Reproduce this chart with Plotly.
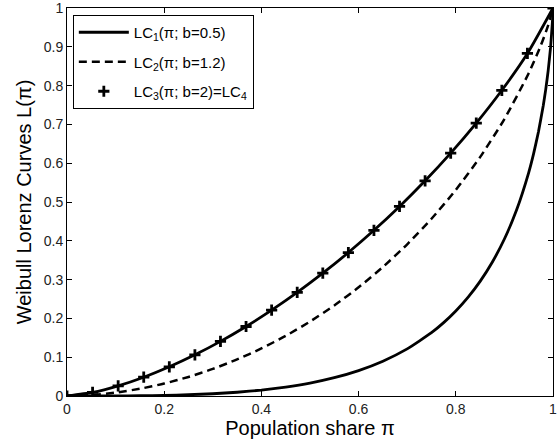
import plotly.graph_objects as go

# LC1: Weibull Lorenz curve, b = 0.5
p1 = [0, 0.05, 0.1, 0.15, 0.2, 0.25, 0.3, 0.35, 0.4, 0.45, 0.5, 0.55, 0.6, 0.65,
      0.7, 0.75, 0.775, 0.8, 0.825, 0.85, 0.875, 0.9, 0.925, 0.95, 0.96, 0.97,
      0.98, 0.985, 0.99, 0.995, 0.999, 1.0]
L1 = [0, 0.00002, 0.00018, 0.00063, 0.00157, 0.00321, 0.00581, 0.00968, 0.01522,
      0.0229, 0.03331, 0.04721, 0.06557, 0.08969, 0.12138, 0.1632, 0.18906,
      0.21908, 0.25416, 0.2955, 0.34482, 0.40465, 0.47912, 0.57585, 0.62402,
      0.68036, 0.74872, 0.78972, 0.83791, 0.89833, 0.96823, 1.0]

# LC2: b = 1.2
p2 = [0, 0.05, 0.1, 0.15, 0.2, 0.25, 0.3, 0.35, 0.4, 0.45, 0.5, 0.55, 0.6, 0.65,
      0.7, 0.75, 0.8, 0.85, 0.9, 0.95, 0.975, 0.99, 1.0]
L2 = [0, 0.00242, 0.00875, 0.01867, 0.03213, 0.04914, 0.06979, 0.09421, 0.12254,
      0.15501, 0.19187, 0.23344, 0.28013, 0.33245, 0.39106, 0.45686, 0.53109,
      0.61564, 0.71374, 0.83185, 0.90376, 0.95516, 1.0]

# LC3 (markers) = LC4 (solid): b = 2
p3 = [0, 0.05263, 0.10526, 0.15789, 0.21053, 0.26316, 0.31579, 0.36842, 0.42105,
      0.47368, 0.52632, 0.57895, 0.63158, 0.68421, 0.73684, 0.78947, 0.84211,
      0.89474, 0.94737, 1.0]
L3 = [0, 0.00916, 0.02611, 0.04839, 0.07517, 0.10604, 0.14075, 0.17918, 0.22126,
      0.26699, 0.31644, 0.36971, 0.42698, 0.4885, 0.55465, 0.62596, 0.70325,
      0.78794, 0.88286, 1.0]

names = ["LC<sub>1</sub>(π; b=0.5)", "LC<sub>2</sub>(π; b=1.2)",
         "LC<sub>3</sub>(π; b=2)=LC<sub>4</sub>"]

FONT = "Liberation Sans, Arial, sans-serif"

fig = go.Figure()
fig.add_trace(go.Scatter(x=p3, y=L3, mode="lines", showlegend=False,
                         line=dict(color="black", width=2.8, shape="spline", smoothing=0.6)))
fig.add_trace(go.Scatter(x=p1, y=L1, mode="lines", name=names[0], legendgroup="a",
                         line=dict(color="black", width=2.8, shape="spline", smoothing=0.4)))
fig.add_trace(go.Scatter(x=p2, y=L2, mode="lines", name=names[1], legendgroup="b",
                         line=dict(color="black", width=2.5, dash="8px,5px",
                                   shape="spline", smoothing=0.6)))
fig.add_trace(go.Scatter(x=p3, y=L3, mode="markers", name=names[2], legendgroup="c",
                         marker=dict(symbol="cross-thin", size=8, color="black",
                                     line=dict(color="black", width=2.8))))

axis_common = dict(showline=True, linecolor="black", linewidth=1, mirror="ticks",
                   ticks="inside", ticklen=5, tickcolor="black", showgrid=False,
                   zeroline=False, ticklabeloverflow="allow",
                   tickfont=dict(family=FONT, size=14, color="#222"))

fig.update_layout(
    width=557, height=442,
    margin=dict(l=67, r=0, t=8, b=46),
    paper_bgcolor="white", plot_bgcolor="white",
    font=dict(family=FONT, color="black"),
    xaxis=dict(range=[0, 1], tickvals=[0, 0.2, 0.4, 0.6, 0.8, 1],
               ticktext=["0", "0.2", "0.4", "0.6", "0.8", "1"],
               title=dict(text="Population share π", font=dict(family=FONT, size=20),
                          standoff=2), **axis_common),
    yaxis=dict(range=[0, 1], tickvals=[i / 10 for i in range(11)],
               ticktext=["0", "0.1", "0.2", "0.3", "0.4", "0.5", "0.6", "0.7", "0.8", "0.9", "1"],
               title=dict(text="Weibull Lorenz Curves L(π)", font=dict(family=FONT, size=20),
                          standoff=6), **axis_common),
    legend=dict(x=0.012, y=0.982, xanchor="left", yanchor="top",
                bgcolor="white", bordercolor="black", borderwidth=1,
                font=dict(family=FONT, size=15, color="black"),
                itemwidth=50,
                traceorder="grouped", tracegroupgap=7),
    showlegend=True,
)

fig.write_html("out.html")
